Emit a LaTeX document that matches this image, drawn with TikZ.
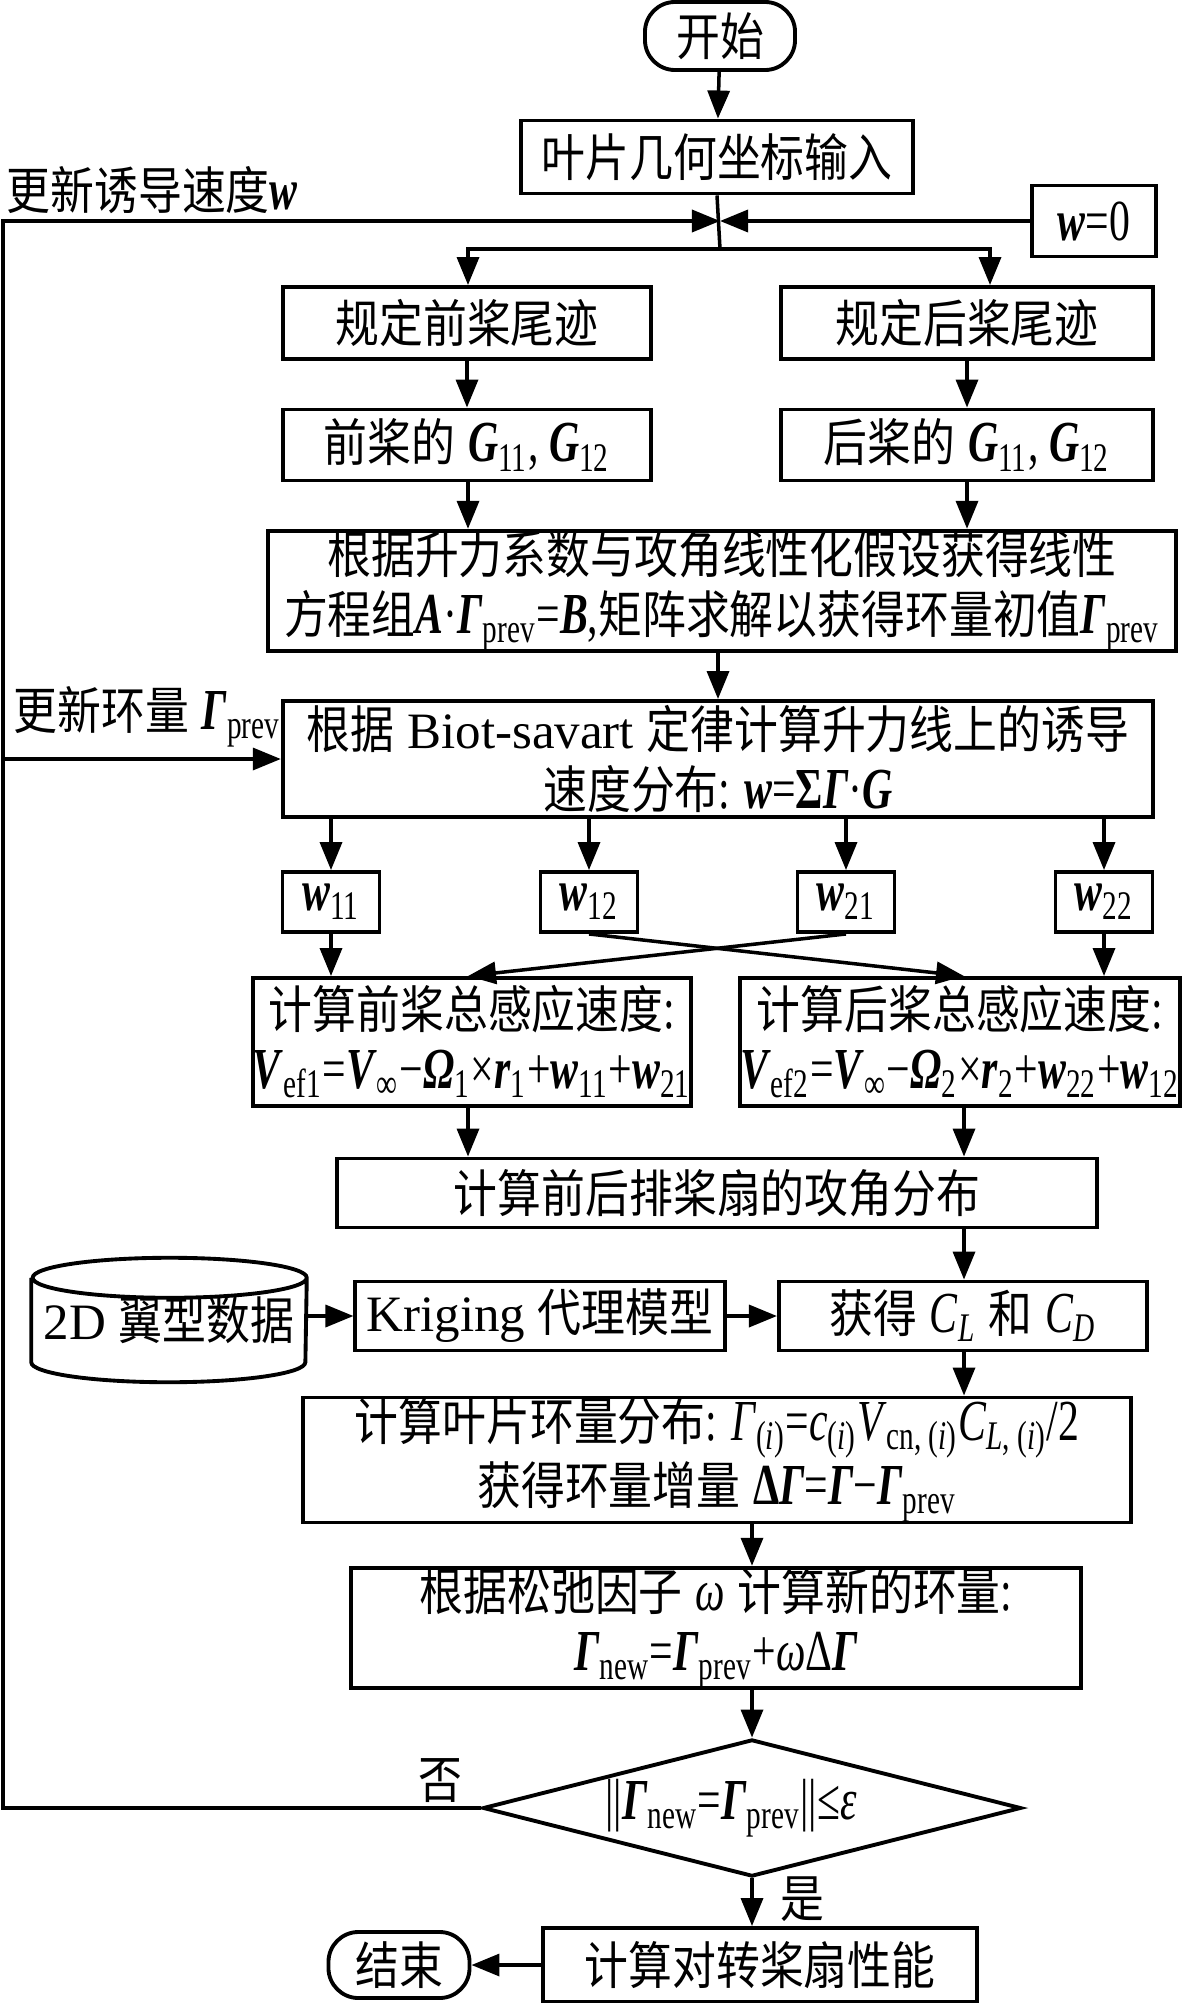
\documentclass[tikz,border=0pt]{standalone}
\usepackage{fontspec}
\setmainfont{Liberation Serif}
\newfontfamily\eqf[FakeStretch=0.72]{Liberation Serif}
\newfontfamily\cjk[FakeStretch=0.86]{Noto Sans CJK SC}
\usepackage{tikz}
\usetikzlibrary{shapes,arrows.meta}
\def\zh#1{{\cjk #1}}
\def\fm#1{{\eqf\fontsize{16.5}{17}\selectfont #1}}
\def\bi#1{\textbf{\textit{#1}}}
\def\low#1{\textsubscript{#1}}
\def\wbox#1#2#3{\node[wbox] (#1) at (#2,902) {\fm{\bi{w}\low{#3}}}}
\tikzstyle{box}=[draw,line width=1.1pt,rectangle,inner sep=0pt,align=center]
\tikzstyle{term}+=[box,rounded corners=0.3cm]
\tikzstyle{wbox}=[box,minimum width=0.97cm,minimum height=0.6cm]
\tikzstyle{store}=[rectangle,inner sep=0pt,minimum width=2.74cm,minimum height=1.23cm]
\tikzstyle{decide}=[draw,line width=1.1pt,diamond,inner sep=0pt]
\tikzstyle{tag}=[inner sep=0pt]
\tikzstyle{flow}=[line width=1pt,-{Triangle[length=0.28cm,width=0.22cm]}]
\tikzstyle{link}=[line width=1pt]
\tikzstyle{rim}=[x radius=1.37cm,y radius=0.2cm]

\begin{document}
\begin{tikzpicture}[x=0.01cm,y=-0.01cm,font=\fontsize{14.5}{17}\selectfont]
    \useasboundingbox (0,0) rectangle (1181,2003);
    \coordinate (lcol) at (468,0);
    \coordinate (rcol) at (964,0);
    \coordinate (loop) at (3,0);
    \coordinate (merge) at (720,221);
    \coordinate (split) at (720,249);
    % top part
    \node[term,minimum width=1.5cm,minimum height=0.68cm] (start) at (720,36) {\zh{开始}};
    \node[box,minimum width=3.92cm,minimum height=0.73cm] (input) at (717,157) {\zh{叶片几何坐标输入}};
    \node[box,minimum width=1.24cm,minimum height=0.71cm] (wzero) at (1094,221) {\fm{\bi{w}=0}};
    \node[tag,anchor=west] (updw) at (6,190) {\zh{更新诱导速度}\fm{\bi{w}}};
    \node[box,minimum width=3.68cm,minimum height=0.72cm] (fwake) at (467,323) {\zh{规定前桨尾迹}};
    \node[box,minimum width=3.72cm,minimum height=0.72cm] (rwake) at (967,323) {\zh{规定后桨尾迹}};
    \node[box,minimum width=3.68cm,minimum height=0.71cm] (fG) at (467,445) {\zh{前桨的} \fm{\bi{G}\low{11}, \bi{G}\low{12}}};
    \node[box,minimum width=3.72cm,minimum height=0.71cm] (rG) at (967,445) {\zh{后桨的} \fm{\bi{G}\low{11}, \bi{G}\low{12}}};
    \node[box,minimum width=9.07cm,minimum height=1.19cm] (lin) at (722,591)
        {\zh{根据升力系数与攻角线性化假设获得线性}\\\zh{方程组}\fm{\bi{A}·\bi{Γ}\low{prev}=\bi{B},}\zh{矩阵求解以获得环量初值}\fm{\bi{Γ}\low{prev}}};
    \node[box,minimum width=8.7cm,minimum height=1.16cm] (biot) at (718,759)
        {\zh{根据} Biot-savart \zh{定律计算升力线上的诱导}\\\zh{速度分布}\fm{: \bi{w}=\textbf{Σ}\bi{Γ}·\bi{G}}};
    \node[tag,anchor=west] (updg) at (13,717) {\zh{更新环量} \fm{\bi{Γ}\low{prev}}};
    % induced velocities
    \wbox{w11}{331}{11};
    \wbox{w12}{589}{12};
    \wbox{w21}{846}{21};
    \wbox{w22}{1104}{22};
    \node[box,minimum width=4.36cm,minimum height=1.28cm] (ffront) at (472,1042)
        {\zh{计算前桨总感应速度}\fm{:}\\\fm{\bi{V}\low{ef1}=\bi{V}\low{∞}−\bi{Ω}\low{1}×\bi{r}\low{1}+\bi{w}\low{11}+\bi{w}\low{21}}};
    \node[box,minimum width=4.32cm,minimum height=1.28cm] (frear) at (960,1042)
        {\zh{计算后桨总感应速度}\fm{:}\\\fm{\bi{V}\low{ef2}=\bi{V}\low{∞}−\bi{Ω}\low{2}×\bi{r}\low{2}+\bi{w}\low{22}+\bi{w}\low{12}}};
    \node[box,minimum width=7.6cm,minimum height=0.69cm] (aoa) at (717,1193) {\zh{计算前后排桨扇的攻角分布}};
    % airfoil data
    \node[store] (foil) at (169,1320) {\raisebox{-0.08cm}{2D \zh{翼型数据}}};
    \draw[line width=1.1pt] ([yshift=-0.2cm]foil.north west) -- ([yshift=0.2cm]foil.south west)
        arc[rim,start angle=180,end angle=360] -- ([yshift=-0.2cm]foil.north east)
        arc[rim,start angle=0,end angle=180] arc[rim,start angle=180,end angle=360];
    \node[box,minimum width=3.69cm,minimum height=0.69cm] (krig) at (540,1316) {Kriging \zh{代理模型}};
    \node[box,minimum width=3.68cm,minimum height=0.69cm] (clcd) at (963,1316)
        {\zh{获得} \fm{\textit{C}\low{\textit{L}}} \zh{和} \fm{\textit{C}\low{\textit{D}}}};
    \node[box,minimum width=8.28cm,minimum height=1.18cm] (gam) at (717,1460)
        {\zh{计算叶片环量分布}\fm{: \textit{Γ}\low{(\textit{i})}=\textit{c}\low{(\textit{i})}\textit{V}\low{cn, (\textit{i})}\textit{C}\low{\textit{L}, (\textit{i})}/2}\\
         \zh{获得环量增量} \fm{\textbf{Δ}\bi{Γ}=\bi{Γ}−\bi{Γ}\low{prev}}};
    \node[box,minimum width=7.29cm,minimum height=1.19cm] (relax) at (716,1628)
        {\zh{根据松弛因子} \fm{\textit{ω}} \zh{计算新的环量}\fm{:}\\\fm{\bi{Γ}\low{new}=\bi{Γ}\low{prev}+\textit{ω}Δ\bi{Γ}}};
    \node[decide,minimum width=5.38cm,minimum height=1.37cm] (dia) at (752,1808)
        {\makebox[0pt]{\hspace{-0.42cm}\fm{||\bi{Γ}\low{new}=\bi{Γ}\low{prev}||≤\textit{ε}}}};
    \node (no) at (440,1781) {\zh{否}};
    \node (yes) at (802,1899) {\zh{是}};
    \node[box,minimum width=4.33cm,minimum height=0.74cm] (perf) at (760,1965) {\zh{计算对转桨扇性能}};
    \node[term,minimum width=1.41cm,minimum height=0.66cm] (end) at (399,1965) {\zh{结束}};
    % connectors
    \draw[flow] (start) -- (input);
    \draw[link] (input.south) -- (split);
    \draw[flow] (wzero.west) -- (merge);
    \draw[flow] (split) -| (fwake.north -| lcol);
    \draw[flow] (split) -| ([xshift=0.23cm]rwake.north);
    \draw[flow] (fwake) -- (fG);
    \draw[flow] (rwake) -- (rG);
    \draw[flow] (fG.south -| lcol) -- (lin.north -| lcol);
    \draw[flow] (rG.south) -- (lin.north -| rG);
    \draw[flow] (lin.south -| biot.north) -- (biot.north);
    \foreach \w in {w11,w12,w21,w22}
        \draw[flow] (biot.south -| \w.north) -- (\w.north);
    \draw[flow] (w11.south) -- (ffront.north -| w11);
    \draw[flow] (w22.south) -- (frear.north -| w22);
    \draw[flow] (w12.south) -- (frear.north -| rcol);
    \draw[flow] (w21.south) -- (ffront.north -| lcol);
    \draw[flow] (ffront.south -| lcol) -- (aoa.north -| lcol);
    \draw[flow] (frear.south -| rcol) -- (aoa.north -| rcol);
    \draw[flow] (aoa.south -| rcol) -- (clcd.north -| rcol);
    \draw[flow] (foil.east |- krig.west) -- (krig.west);
    \draw[flow] (krig.east) -- (clcd.west);
    \draw[flow] (clcd.south -| rcol) -- (gam.north -| rcol);
    \draw[flow] (gam.south -| dia.north) -- (relax.north -| dia.north);
    \draw[flow] (relax.south -| dia.north) -- (dia.north);
    \draw[flow] (dia.south) -- (perf.north -| dia.south);
    \draw[flow] (perf.west) -- (end.east);
    \draw[flow] (dia.west) -- (dia.west -| loop) -- (merge -| loop) -- (merge);
    \draw[flow] (biot.west -| loop) -- (biot.west);
\end{tikzpicture}
\end{document}
